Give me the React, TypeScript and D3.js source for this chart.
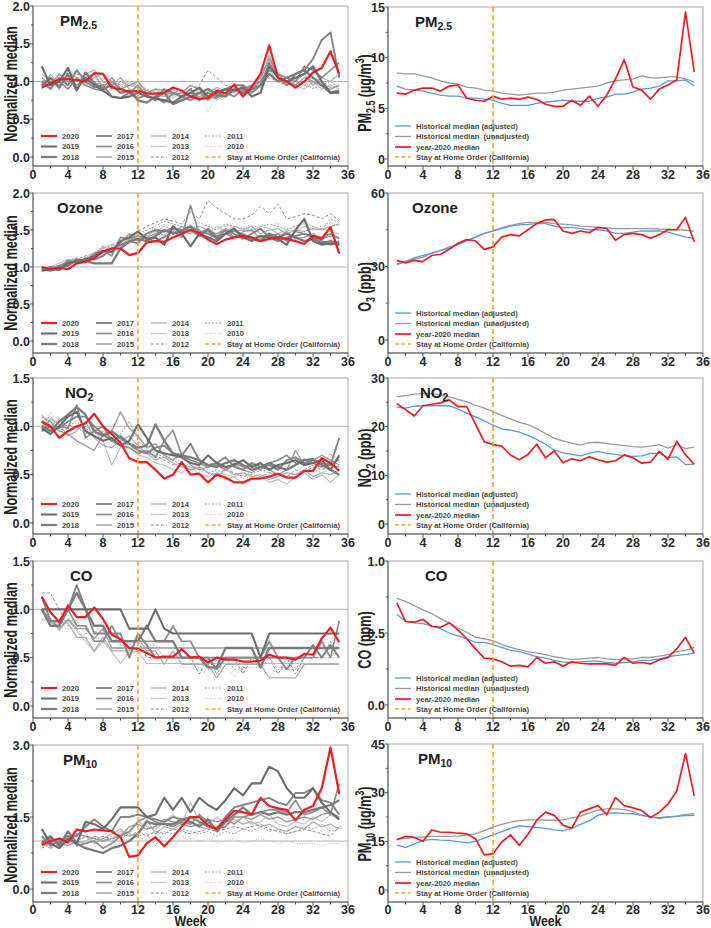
import React from 'react';
import * as d3 from 'd3';

// ---------------- DATA ----------------
const weeks = [1,2,3,4,5,6,7,8,9,10,11,12,13,14,15,16,17,18,19,20,21,22,23,24,25,26,27,28,29,30,31,32,33,34,35];
const xTicksMajor = [0,4,8,12,16,20,24,28,32,36];
const xTicksMinor = [2,6,10,14,18,22,26,30,34];
const stayHomeWeek = 12;

const years = ['2020','2019','2018','2017','2016','2015','2014','2013','2012','2011','2010'];

// PM2.5 normalized
const pm25_2020 = [0.92,0.97,1.03,1.03,1.02, 1.00,1.11,1.10,0.92,0.90, 0.86,0.88,0.84,0.84,0.85, 0.92,0.88,0.80,0.77,0.78, 0.88,0.84,0.96,0.80,0.93, 1.10,1.48,1.05,1.00,0.92, 1.00,1.12,1.18,1.40,1.10];
const pm25_2019 = [1.20,0.95,1.00,1.18,0.90, 1.05,0.95,0.88,0.80,0.78, 0.80,0.85,0.80,0.78,0.75, 0.72,0.80,0.85,0.92,0.80, 0.85,0.90,0.88,0.92,0.80, 0.85,1.20,1.05,1.00,1.05, 1.10,1.20,1.00,0.85,0.88];
const pm25_2018 = [0.95,1.05,0.92,1.10,0.88, 1.12,0.98,0.90,0.95,0.85, 0.88,0.75,0.72,0.80,0.85, 0.70,0.75,0.80,0.85,0.90, 0.82,0.80,0.90,0.85,0.90, 0.95,1.10,1.00,1.05,1.10, 1.15,1.05,0.95,0.85,0.85];
const pm25_2017 = [1.00,0.90,1.05,0.95,1.15, 1.00,0.92,0.95,0.80,0.78, 0.85,0.78,0.82,0.75,0.90, 0.85,0.80,0.90,0.75,0.85, 0.80,0.90,0.95,0.95,0.85, 0.95,1.25,1.05,0.95,1.10, 1.15,1.30,1.55,1.65,1.05];
const pm25_2016 = [0.95,1.00,1.00,0.90,1.05, 0.95,0.90,0.88,1.00,0.90, 0.85,0.95,0.80,0.78,0.72, 0.85,0.80,0.75,0.85,0.80, 0.78,0.85,0.80,0.90,0.95, 1.00,1.15,1.10,1.05,1.00, 1.20,1.15,1.05,1.15,1.25];
const pm25_2015 = [1.05,0.95,1.10,1.00,0.95, 1.05,1.10,0.92,1.05,0.90, 0.95,1.00,0.85,0.90,0.88, 0.82,0.85,0.95,0.90,0.75, 0.85,0.80,0.92,0.88,0.95, 1.05,1.30,1.10,1.00,0.95, 1.05,1.00,0.95,0.90,0.95];
const pm25_2014 = [0.90,1.10,0.95,1.05,1.00, 1.10,1.15,1.00,0.95,1.05, 0.90,0.85,0.88,0.82,0.80, 0.90,0.78,0.85,0.80,0.85, 0.92,0.88,0.85,0.95,0.90, 1.00,1.35,1.05,0.95,1.00, 1.10,0.95,1.05,1.00,1.10];
const pm25_2013 = [1.10,1.00,0.90,1.15,1.05, 0.95,1.05,1.10,1.00,0.95, 1.00,0.90,0.82,0.88,0.85, 0.78,0.85,0.80,0.90,0.85, 0.75,0.82,0.88,0.80,0.92, 1.00,1.15,1.00,1.05,0.95, 0.90,1.00,0.90,0.95,0.90];
const pm25_2012 = [1.00,1.05,0.98,1.00,1.10, 1.05,0.95,1.00,0.90,1.00, 0.95,0.92,0.85,0.90,0.80, 0.85,0.88,0.90,0.95,1.15, 1.05,0.95,0.90,0.88,0.85, 0.95,1.05,1.00,0.95,1.00, 0.95,1.05,1.00,0.92,0.95];
const pm25_2011 = [0.95,1.00,1.05,0.92,1.00, 0.98,1.05,0.95,1.00,0.92, 0.98,0.95,0.90,0.85,0.88, 0.92,0.85,0.82,0.78,0.88, 0.90,0.85,0.82,0.90,0.88, 0.92,1.10,1.00,0.98,0.95, 1.00,0.90,0.95,1.00,0.92];
const pm25_2010 = [1.05,0.98,1.00,1.05,0.95, 1.00,0.98,1.05,0.95,1.00, 1.02,0.98,0.88,0.82,0.85, 0.80,0.82,0.78,0.85,0.60, 0.82,0.88,0.85,0.92,0.95, 0.98,1.05,1.02,0.98,1.02, 0.95,0.92,0.88,0.95,0.98];

// Ozone normalized
const o3_2020 = [1.00,0.97,0.99,0.97,1.05, 1.07,1.12,1.21,1.25,1.25, 1.16,1.19,1.33,1.35,1.34, 1.40,1.45,1.50,1.46,1.37, 1.31,1.37,1.40,1.42,1.40, 1.35,1.38,1.40,1.38,1.35, 1.31,1.42,1.38,1.54,1.18];
const o3_2019 = [0.95,0.97,0.96,1.05,1.08, 1.10,1.15,1.22,1.20,1.35, 1.40,1.48,1.38,1.40,1.30, 1.55,1.45,1.28,1.45,1.40, 1.35,1.45,1.52,1.40,1.35, 1.42,1.40,1.38,1.30,1.50, 1.65,1.35,1.30,1.32,1.30];
const o3_2018 = [0.97,0.95,1.00,1.02,1.10, 1.08,1.05,1.05,1.05,1.25, 1.35,1.38,1.35,1.42,1.50, 1.45,1.48,1.55,1.42,1.50, 1.38,1.45,1.50,1.42,1.38, 1.35,1.45,1.40,1.45,1.40, 1.35,1.38,1.32,1.35,1.32];
const o3_2017 = [0.96,1.00,0.98,1.08,1.05, 1.12,1.10,1.15,1.25,1.30, 1.35,1.32,1.45,1.50,1.48, 1.52,1.50,1.55,1.48,1.45, 1.40,1.50,1.45,1.38,1.45, 1.52,1.40,1.35,1.40,1.42, 1.45,1.40,1.35,1.30,1.35];
const o3_2016 = [1.00,0.96,1.02,1.05,1.10, 1.08,1.18,1.22,1.15,1.40, 1.38,1.42,1.38,1.35,1.40, 1.48,1.40,1.83,1.45,1.52, 1.42,1.45,1.40,1.45,1.38, 1.42,1.40,1.45,1.35,1.48, 1.45,1.42,1.40,1.45,1.38];
const o3_2015 = [0.98,1.00,0.97,1.10,1.05, 1.10,1.12,1.20,1.25,1.32, 1.45,1.35,1.40,1.45,1.50, 1.45,1.55,1.48,1.42,1.38, 1.45,1.50,1.40,1.48,1.50, 1.38,1.45,1.40,1.48,1.38, 1.40,1.45,1.38,1.42,1.40];
const o3_2014 = [0.95,0.99,1.02,1.08,1.12, 1.05,1.15,1.28,1.22,1.30, 1.32,1.40,1.45,1.50,1.42, 1.55,1.48,1.45,1.55,1.50, 1.45,1.52,1.48,1.50,1.55, 1.45,1.50,1.52,1.45,1.50, 1.48,1.52,1.50,1.55,1.58];
const o3_2013 = [0.97,1.00,1.05,1.10,1.08, 1.12,1.20,1.25,1.30,1.28, 1.40,1.45,1.42,1.48,1.55, 1.50,1.45,1.52,1.50,1.45, 1.55,1.48,1.55,1.50,1.48, 1.55,1.52,1.45,1.50,1.48, 1.55,1.50,1.52,1.48,1.45];
const o3_2012 = [0.98,0.96,1.00,1.05,1.10, 1.15,1.18,1.25,1.30,1.35, 1.42,1.48,1.55,1.60,1.65, 1.62,1.58,1.75,1.65,1.90, 1.80,1.72,1.65,1.65,1.70, 1.82,1.72,1.85,1.65,1.68, 1.72,1.70,1.65,1.72,1.62];
const o3_2011 = [0.96,0.98,1.02,1.06,1.10, 1.12,1.15,1.22,1.28,1.30, 1.38,1.45,1.50,1.55,1.62, 1.58,1.55,1.50,1.60,1.55, 1.50,1.58,1.55,1.52,1.50, 1.55,1.58,1.55,1.50,1.55, 1.60,1.55,1.50,1.65,1.60];
const o3_2010 = [0.95,0.97,1.00,1.04,1.08, 1.10,1.18,1.30,1.25,1.32, 1.35,1.42,1.48,1.52,1.58, 1.55,1.60,1.55,1.50,1.58, 1.52,1.55,1.60,1.55,1.52, 1.58,1.55,1.60,1.52,1.55, 1.58,1.52,1.55,1.60,1.55];

// NO2 normalized
const no2_2020 = [1.05,1.00,0.88,0.95,1.00, 1.03,1.13,1.00,0.92,0.83, 0.67,0.63,0.63,0.55,0.46, 0.50,0.63,0.50,0.51,0.42, 0.50,0.47,0.42,0.42,0.46, 0.46,0.48,0.51,0.47,0.47, 0.54,0.54,0.67,0.62,0.54];
const no2_2019 = [0.98,0.92,1.00,1.10,1.15, 0.95,0.90,0.85,0.88,0.80, 0.85,1.02,0.88,0.75,0.72, 0.70,0.68,0.62,0.60,0.70, 0.62,0.58,0.60,0.65,0.58, 0.62,0.55,0.60,0.62,0.65, 0.60,0.62,0.65,0.55,0.70];
const no2_2018 = [1.00,0.95,1.05,1.12,1.20, 1.12,0.95,0.90,0.95,0.88, 0.82,0.78,0.80,1.02,0.85, 0.72,0.70,0.68,0.65,0.60, 0.58,0.62,0.65,0.60,0.55, 0.58,0.62,0.58,0.55,0.60, 0.65,0.66,0.60,0.55,0.50];
const no2_2017 = [0.95,1.00,0.98,1.05,1.10, 1.10,1.00,0.92,0.85,0.90, 0.82,0.75,0.72,0.78,0.80, 0.72,0.70,0.82,0.65,0.60, 0.62,0.68,0.58,0.55,0.62, 0.58,0.60,0.55,0.65,0.68, 0.62,0.65,0.62,0.60,0.88];
const no2_2016 = [1.05,0.95,1.00,0.98,1.22, 0.88,0.95,1.00,0.85,0.80, 0.78,0.72,0.75,0.68,0.85, 0.96,0.70,0.65,0.62,0.58, 0.60,0.55,0.62,0.58,0.60, 0.55,0.62,0.65,0.70,0.62, 0.66,0.62,0.58,0.62,0.65];
const no2_2015 = [1.10,1.05,0.95,0.92,0.85, 0.80,0.75,0.92,0.95,1.15, 0.98,0.90,0.78,0.82,0.70, 0.65,0.72,0.60,0.55,0.58, 0.62,0.55,0.60,0.55,0.52, 0.58,0.55,0.50,0.55,0.75, 0.60,0.65,0.70,0.65,0.60];
const no2_2014 = [0.95,1.08,1.02,0.90,0.95, 1.05,0.88,0.80,0.78,0.85, 0.90,0.80,0.72,0.65,0.68, 0.62,0.58,0.55,0.58,0.52, 0.48,0.55,0.50,0.52,0.48, 0.50,0.45,0.48,0.52,0.50, 0.55,0.48,0.52,0.50,0.55];
const no2_2013 = [1.12,1.00,1.08,0.95,1.00, 0.92,0.95,0.85,0.60,0.78, 0.82,0.70,0.68,0.62,0.60, 0.55,0.52,0.58,0.50,0.48, 0.52,0.45,0.48,0.40,0.45, 0.48,0.42,0.45,0.40,0.48, 0.52,0.45,0.50,0.42,0.50];
const no2_2012 = [1.00,1.05,0.95,1.02,0.98, 1.00,0.95,0.90,0.85,0.88, 0.82,0.78,0.72,0.70,0.65, 0.60,0.62,0.55,0.58,0.52, 0.50,0.55,0.52,0.48,0.50, 0.48,0.52,0.50,0.48,0.55, 0.52,0.58,0.55,0.60,0.58];
const no2_2011 = [1.05,1.10,1.02,1.00,1.05, 0.98,0.92,0.95,0.88,0.92, 1.05,0.85,0.78,0.72,0.68, 0.65,0.60,0.58,0.55,0.52, 0.55,0.50,0.48,0.52,0.50, 0.55,0.52,0.48,0.52,0.50, 0.55,0.60,0.58,0.72,0.62];
const no2_2010 = [1.00,1.15,1.05,1.10,1.02, 0.98,1.00,0.92,0.90,0.95, 1.04,0.88,0.80,0.75,0.70, 0.68,0.62,0.60,0.58,0.55, 0.52,0.50,0.48,0.50,0.45, 0.48,0.50,0.45,0.48,0.52, 0.50,0.55,0.52,0.55,0.58];

// CO normalized
const co_2020 = [1.13,0.97,0.87,1.04,0.92, 0.92,1.02,0.90,0.74,0.69, 0.60,0.59,0.55,0.50,0.51, 0.51,0.59,0.50,0.51,0.45, 0.50,0.48,0.48,0.46,0.46, 0.47,0.53,0.50,0.50,0.48, 0.54,0.53,0.70,0.81,0.66];
const co_2019 = [1.00,1.00,1.00,1.00,1.00, 1.00,1.00,1.00,1.00,1.00, 0.80,0.80,0.80,1.00,0.80, 0.75,0.75,0.75,0.75,0.75, 0.75,0.75,0.75,0.75,0.75, 0.50,0.75,0.75,0.75,0.75, 0.75,0.75,0.75,0.75,0.75];
const co_2018 = [1.00,0.83,0.83,1.00,1.17, 1.00,0.83,0.83,0.67,0.67, 0.67,0.67,0.83,0.67,0.67, 0.67,0.50,0.50,0.50,0.40, 0.40,0.60,0.60,0.60,0.60, 0.40,0.60,0.60,0.60,0.60, 0.60,0.60,0.60,0.60,0.60];
const co_2017 = [1.13,0.88,0.88,1.00,1.25, 1.00,0.75,0.75,0.75,0.75, 0.50,0.75,0.63,0.50,0.50, 0.50,0.50,0.50,0.50,0.50, 0.38,0.50,0.50,0.50,0.50, 0.50,0.50,0.50,0.38,0.50, 0.50,0.63,0.50,0.63,0.50];
const co_2016 = [1.00,0.83,0.83,1.00,0.83, 0.83,0.67,0.67,0.83,0.67, 0.67,0.67,0.67,0.67,0.67, 0.83,0.67,0.67,0.50,0.50, 0.50,0.50,0.50,0.50,0.50, 0.50,0.67,0.50,0.50,0.50, 0.50,0.50,0.67,0.50,0.88];
const co_2015 = [1.00,0.90,0.80,0.90,0.80, 0.80,0.70,0.80,0.60,0.60, 0.60,0.60,0.60,0.60,0.60, 0.60,0.60,0.60,0.60,0.60, 0.60,0.60,0.60,0.60,0.60, 0.60,0.60,0.60,0.60,0.60, 0.60,0.60,0.60,0.60,0.60];
const co_2014 = [1.00,0.86,0.86,0.86,0.71, 0.71,0.57,0.71,0.57,0.57, 0.57,0.71,0.57,0.57,0.43, 0.57,0.43,0.43,0.43,0.43, 0.29,0.43,0.43,0.43,0.43, 0.43,0.29,0.29,0.29,0.29, 0.43,0.43,0.43,0.43,0.43];
const co_2013 = [0.89,0.89,0.78,0.89,0.78, 0.67,0.56,0.67,0.56,0.44, 0.56,0.56,0.44,0.44,0.44, 0.44,0.44,0.44,0.44,0.44, 0.44,0.44,0.44,0.44,0.44, 0.44,0.44,0.44,0.44,0.44, 0.44,0.44,0.44,0.44,0.44];
const co_2012 = [1.17,1.17,1.00,0.83,0.83, 0.83,0.67,0.67,0.67,0.67, 0.67,0.67,0.50,0.50,0.50, 0.50,0.50,0.50,0.33,0.50, 0.33,0.50,0.50,0.33,0.50, 0.50,0.50,0.33,0.50,0.33, 0.50,0.50,0.50,0.67,0.50];
const co_2011 = [1.00,0.88,0.88,0.88,0.88, 0.75,0.75,0.88,0.75,0.63, 0.63,0.75,0.63,0.63,0.50, 0.50,0.50,0.50,0.50,0.38, 0.38,0.50,0.38,0.38,0.50, 0.38,0.50,0.38,0.38,0.38, 0.50,0.50,0.50,0.50,0.63];
const co_2010 = [0.90,0.90,0.80,0.80,0.80, 0.70,0.70,0.70,0.60,0.60, 0.60,0.50,0.50,0.50,0.50, 0.50,0.40,0.40,0.40,0.30, 0.40,0.40,0.30,0.40,0.40, 0.40,0.30,0.40,0.40,0.40, 0.40,0.50,0.50,0.50,0.50];

// PM10 normalized
const pm10_2020 = [0.92,1.00,1.05,0.97,1.24, 1.20,1.24,1.22,1.20,1.08, 0.67,0.70,0.95,1.08,0.89, 1.08,1.30,1.50,1.50,1.33, 1.25,1.45,1.63,1.60,1.55, 1.90,1.73,1.68,1.65,1.43, 1.65,1.73,2.10,2.95,1.98];
const pm10_2019 = [1.25,0.95,0.85,1.05,0.95, 1.40,1.35,1.25,1.45,1.70, 1.70,1.70,1.50,1.55,1.90, 1.65,1.90,1.60,1.90,1.75, 1.65,1.85,2.10,1.95,2.20, 2.20,2.55,2.45,2.10,1.90, 1.90,2.10,1.80,1.60,1.45];
const pm10_2018 = [0.95,1.10,0.90,1.20,0.95, 0.85,0.80,0.75,0.85,0.90, 1.00,1.15,1.40,1.35,1.35, 1.35,1.45,1.40,1.30,1.45, 1.20,1.40,1.55,1.70,1.55, 1.60,1.55,1.60,1.55,1.60, 1.60,1.65,1.70,1.75,1.85];
const pm10_2017 = [1.10,0.90,1.00,1.10,1.10, 1.30,1.45,1.30,1.20,1.50, 1.50,1.55,1.50,1.45,1.40, 1.50,1.45,1.50,1.40,1.30, 1.25,1.50,1.70,1.75,1.80, 1.85,1.90,1.80,1.75,2.00, 2.00,2.10,1.85,1.80,1.55];
const pm10_2016 = [1.00,1.05,0.95,1.10,0.90, 0.95,1.00,0.85,0.95,1.10, 1.20,1.40,1.50,1.40,1.35, 1.30,1.40,1.35,1.55,1.40, 1.25,1.30,1.50,1.50,1.55, 1.60,1.65,1.65,1.60,1.85, 1.55,1.60,1.70,1.55,2.20];
const pm10_2015 = [0.90,0.95,1.05,1.00,1.15, 1.10,1.05,1.00,1.05,1.10, 1.30,1.35,1.25,1.30,1.45, 1.40,1.35,1.30,1.35,1.45, 1.40,1.45,1.35,1.50,1.45, 1.55,1.45,1.50,1.40,1.45, 1.50,1.45,1.55,1.60,1.50];
const pm10_2014 = [0.95,0.85,0.95,0.90,1.00, 1.10,0.95,1.05,1.15,1.25, 1.10,1.15,1.45,1.15,1.30, 1.25,1.35,1.40,1.30,1.25, 1.30,1.40,1.45,1.35,1.40, 1.30,1.35,1.25,1.20,1.30, 1.25,1.40,1.30,1.35,1.25];
const pm10_2013 = [1.05,1.10,0.90,1.00,0.95, 1.00,1.10,1.05,1.00,1.20, 1.15,1.40,1.30,1.25,1.40, 1.55,1.35,1.80,1.40,1.35, 1.50,1.35,1.40,1.50,1.35, 1.40,1.55,1.35,1.30,1.40, 1.35,1.50,1.40,1.55,1.45];
const pm10_2012 = [0.85,0.95,1.00,0.90,1.00, 0.95,1.00,1.10,1.05,1.15, 1.10,1.20,1.10,1.20,1.15, 1.25,1.20,1.15,1.20,1.25, 1.20,1.25,1.30,1.25,1.30, 1.35,1.25,1.20,1.15,1.20, 1.25,1.20,1.15,1.10,1.30];
const pm10_2011 = [0.95,1.00,0.95,1.05,1.00, 0.95,1.05,1.00,1.10,1.05, 1.15,1.10,1.15,0.90,1.20, 1.15,1.25,1.20,1.15,1.20, 1.10,1.20,1.15,1.25,1.20, 1.30,1.20,1.25,1.15,1.20, 1.30,1.25,1.35,1.20,1.25];
const pm10_2010 = [1.00,0.95,1.00,0.90,0.95, 1.00,0.95,1.05,0.95,1.00, 1.05,1.10,1.00,1.05,0.95, 0.85,1.10,1.05,1.00,1.05, 0.95,1.00,1.05,0.95,1.00, 1.05,1.00,0.95,1.00,0.95, 0.95,0.95,0.90,0.95,0.95];

// Absolute concentrations (right column)
const pm25Adj = [7.2,6.9,6.8,6.7,6.5, 6.3,6.2,6.2,6.0,6.0, 5.9,5.8,5.5,5.3,5.3, 5.3,5.5,5.6,5.7,5.8, 5.7,5.7,5.7,6.0,6.1, 6.4,6.4,6.6,6.9,7.0, 7.2,7.7,7.7,7.8,7.2];
const pm25Unadj = [8.5,8.4,8.4,8.2,8.0, 7.7,7.5,7.4,7.1,7.0, 6.8,6.7,6.5,6.4,6.3, 6.4,6.5,6.5,6.6,6.8, 6.9,7.0,7.1,7.2,7.5, 7.7,7.8,7.9,8.2,8.0, 8.0,8.1,8.1,7.9,7.6];
const pm25Y2020 = [6.5,6.4,6.8,7.0,7.0, 6.7,7.2,7.3,6.0,5.8, 5.7,6.2,5.9,6.0,5.9, 6.1,5.9,5.4,5.2,5.2, 5.8,5.3,6.2,5.2,6.3, 7.9,9.8,7.1,6.8,5.9, 6.9,7.3,7.8,14.5,8.6];

const o3Adj = [31,32,33.5,34.5,35.5, 36.5,37.5,39,40.5,42, 43.5,44.5,45.5,46.5,47, 47.2,47.5,47.5,46.5,45.8, 46,45.5,45,45,44.5, 43.5,43.5,44,44.5,44.5, 44.5,44,43,42,41.5];
const o3Unadj = [30.8,32,33,33.8,35.5, 36.5,38,39,40.5,42, 43.5,44.5,45.8,46.8,47.5, 48,48,48,47.5,47.3, 47,46.5,46.3,46,45.8, 45.5,45.5,45.5,45.5,45.5, 45.3,45.2,45,44.8,44.3];
const o3Y2020 = [32.5,31.5,32.5,32,34.5, 35,37,39.5,41,40.5, 37,38,42,43,42.5, 45,47.5,49,49.2,44.5, 43.5,44.5,43.8,46,45.5, 40.7,43,43.5,43,41.5, 43,45,45,50,40];

const no2Adj = [24.0,23.8,24.2,24.3,24.3, 24.3,24.3,23.6,22.8,22.0, 21.2,20.3,19.5,19.3,18.9, 18.2,17.4,16.4,15.2,14.6, 14.3,14.0,14.5,14.9,14.5, 14.3,14.0,13.9,14.0,14.5, 14.5,13.7,13.8,12.2,12.3];
const no2Unadj = [26.1,26.4,26.7,26.8,26.8, 26.5,26.1,25.6,25.1,24.4, 23.8,23.1,22.3,21.6,20.9, 20.4,19.6,18.6,17.6,17.1, 16.6,16.2,16.7,16.8,16.5, 16.3,16.1,15.9,15.8,16.0, 16.3,15.6,16.3,15.5,15.8];
const no2Y2020 = [24.7,23.5,22.2,24.3,24.6, 24.9,25.5,24.1,24.1,20.5, 16.9,16.3,16.0,14.2,13.2, 14.3,16.4,13.6,15.0,12.6, 13.4,13.0,13.8,13.2,12.7, 13.0,14.2,13.6,12.5,12.7, 14.9,13.3,17.0,14.2,12.3];

const coAdj = [0.63,0.58,0.57,0.565,0.55, 0.53,0.50,0.48,0.46,0.435, 0.435,0.42,0.40,0.38,0.37, 0.355,0.335,0.325,0.31,0.30, 0.295,0.30,0.305,0.305,0.295, 0.29,0.295,0.30,0.31,0.31, 0.32,0.335,0.345,0.35,0.36];
const coUnadj = [0.74,0.72,0.69,0.66,0.635, 0.60,0.57,0.535,0.505,0.47, 0.46,0.445,0.42,0.40,0.385, 0.37,0.36,0.35,0.335,0.325, 0.315,0.32,0.325,0.33,0.32, 0.315,0.32,0.32,0.33,0.33, 0.34,0.35,0.37,0.38,0.40];
const coY2020 = [0.71,0.58,0.575,0.595,0.545, 0.54,0.57,0.52,0.46,0.39, 0.325,0.32,0.30,0.27,0.275, 0.265,0.33,0.29,0.30,0.27, 0.30,0.29,0.285,0.285,0.285, 0.275,0.33,0.29,0.295,0.285, 0.315,0.33,0.39,0.47,0.36];

const pm10Adj = [13.8,13.1,14.2,15.2,15.6, 15.4,15.3,14.9,14.5,15.0, 16.0,17.0,18.0,19.0,19.8, 19.5,19.3,19.0,18.5,18.2, 19.0,20.2,21.3,23.0,23.7, 23.8,23.6,23.5,23.0,22.5, 22.3,22.5,22.7,22.9,23.0];
const pm10Unadj = [15.7,15.9,16.2,16.4,16.5, 16.5,16.5,16.6,16.9,17.3, 18.3,19.4,20.2,20.9,21.4, 21.6,21.6,21.5,21.5,21.6, 22.2,22.8,23.8,24.6,25.0, 25.0,24.8,24.2,23.0,22.6, 22.0,22.5,22.8,23.3,23.5];
const pm10Y2020 = [15.5,16.5,16.2,15.0,18.5, 17.8,17.8,17.5,17.3,15.8, 10.8,11.2,14.8,17.0,13.8, 17.2,21.5,24.0,23.0,20.0, 19.0,24.0,25.0,26.0,23.2, 28.5,26.0,25.3,24.5,22.3, 24.0,26.5,30.5,42.0,29.0];

// Axis ticks
const normTicks2 = [0, 0.5, 1.0, 1.5, 2.0];
const normMinor2 = [0.25, 0.75, 1.25, 1.75];
const normTicks15 = [0, 0.5, 1.0, 1.5];
const normMinor15 = [0.25, 0.75, 1.25];
const normTicks3 = [0, 1.5, 3.0];
const normMinor3 = [0.75, 2.25];
const pm25Ticks = [0, 5, 10, 15];
const pm25Minor = [2.5, 7.5, 12.5];
const o3Ticks = [0, 30, 60];
const o3Minor = [15, 45];
const no2Ticks = [0, 10, 20, 30];
const no2Minor = [5, 15, 25];
const coTicks = [0, 0.5, 1.0];
const coMinor = [0.25, 0.75];
const pm10Ticks = [0, 15, 30, 45];
const pm10Minor = [7.5, 22.5, 37.5];

const rightLegendLabels = ['Historical median (adjusted)', 'Historical median  (unadjusted)', 'year-2020 median', 'Stay at Home Order (California)'];

// ---------------- STYLE ----------------
const FONT = '"Liberation Sans", Arial, Helvetica, sans-serif';
const RED = '#ee1d23';
const ORANGE = '#f5a623';
const BLUE = '#5b9bd5';
const HISTGRAY = '#9a9a9a';
const X_LEFT: [number, number] = [33, 348];
const X_RIGHT: [number, number] = [388, 703];

const yearStyle: Record<string, { color: string; width: number; dash?: string }> = {
  '2020': { color: RED, width: 2.2 },
  '2019': { color: '#6c6c6c', width: 2.1 },
  '2018': { color: '#7c7c7c', width: 2.3 },
  '2017': { color: '#848484', width: 1.9 },
  '2016': { color: '#8e8e8e', width: 1.7 },
  '2015': { color: '#9c9c9c', width: 1.4 },
  '2014': { color: '#adadad', width: 1.2 },
  '2013': { color: '#bebebe', width: 1.1 },
  '2012': { color: '#8e8e8e', width: 1, dash: '3,2' },
  '2011': { color: '#a6a6a6', width: 1, dash: '2,1.5' },
  '2010': { color: '#bdbdbd', width: 1, dash: '1,1.5' },
};

type Part = { t: string; sub?: boolean; sup?: boolean };

function Rich({ parts, fs }: { parts: Part[]; fs: number }) {
  let cur = 0;
  return (
    <>
      {parts.map((p, i) => {
        const target = p.sub ? fs * 0.22 : p.sup ? -fs * 0.4 : 0;
        const dy = target - cur;
        cur = target;
        return (
          <tspan key={i} dy={dy} fontSize={p.sub || p.sup ? fs * 0.7 : fs}>
            {p.t}
          </tspan>
        );
      })}
    </>
  );
}

type PanelProps = {
  xRange: [number, number];
  top: number;
  zero: number;
  bottom: number;
  yMax: number;
  ticks: number[];
  minor: number[];
  fmt: (v: number) => string;
  title: Part[];
  titleDx: number;
  yTitle: Part[];
  yTitleX: number;
  yTitleCy: number;
  kind: 'left' | 'right';
  yearSeries?: Record<string, number[]>;
  adj?: number[];
  unadj?: number[];
  y2020?: number[];
  showWeek?: boolean;
};

function Panel(p: PanelProps) {
  const x = d3.scaleLinear().domain([0, 36]).range(p.xRange);
  const y = d3.scaleLinear().domain([0, p.yMax]).range([p.zero, p.top]);
  const line = d3.line<number>().x((_, i) => x(weeks[i])).y((d) => y(d));
  const [x0, x1] = p.xRange;
  const axisColor = '#555';
  const labelColor = '#2a2a2a';

  const lines: React.ReactNode[] = [];
  if (p.kind === 'left' && p.yearSeries) {
    const order = ['2010', '2011', '2012', '2013', '2014', '2015', '2016', '2017', '2018', '2019'];
    order.forEach((yr) => {
      const s = yearStyle[yr];
      lines.push(
        <path key={yr} d={line(p.yearSeries![yr]) || ''} fill="none" stroke={s.color} strokeWidth={s.width}
          strokeDasharray={s.dash} strokeLinejoin="round" />
      );
    });
    lines.push(
      <path key="2020" d={line(p.yearSeries['2020']) || ''} fill="none" stroke={RED} strokeWidth={2.2} strokeLinejoin="round" />
    );
  } else {
    lines.push(<path key="u" d={line(p.unadj!) || ''} fill="none" stroke={HISTGRAY} strokeWidth={1.3} />);
    lines.push(<path key="a" d={line(p.adj!) || ''} fill="none" stroke={BLUE} strokeWidth={1.3} />);
    lines.push(<path key="r" d={line(p.y2020!) || ''} fill="none" stroke={RED} strokeWidth={1.7} strokeLinejoin="round" />);
  }

  // legend
  const legend: React.ReactNode[] = [];
  const lfs = 7.6;
  const lcolor = '#4a4a4a';
  if (p.kind === 'left') {
    const rowsY = [p.bottom - 30, p.bottom - 19.5, p.bottom - 9];
    const colLine = [8, 63, 118, 172];
    const colText = [29, 84, 139, 194];
    const entries = [...years, 'stay'];
    entries.forEach((e, i) => {
      const c = Math.floor(i / 3);
      const r = i % 3;
      const ly = rowsY[r];
      const lx = x0 + colLine[c];
      const isStay = e === 'stay';
      const s = isStay ? { color: ORANGE, width: 1.5, dash: '4,2.5' } : yearStyle[e];
      legend.push(
        <g key={e}>
          <line x1={lx} x2={lx + 16} y1={ly} y2={ly} stroke={s.color} strokeWidth={s.width} strokeDasharray={s.dash} />
          <text x={x0 + colText[c]} y={ly} dy="0.35em" fontSize={lfs} fontWeight="bold" fill={lcolor} fontFamily={FONT}>
            {isStay ? 'Stay at Home Order (California)' : e}
          </text>
        </g>
      );
    });
  } else {
    const rowsY = [p.bottom - 40, p.bottom - 29.5, p.bottom - 19, p.bottom - 9];
    const styles = [
      { color: BLUE, width: 1.3, dash: undefined as string | undefined },
      { color: HISTGRAY, width: 1.3, dash: undefined },
      { color: RED, width: 1.7, dash: undefined },
      { color: ORANGE, width: 1.5, dash: '4,2.5' },
    ];
    rightLegendLabels.forEach((lab, i) => {
      const ly = rowsY[i];
      legend.push(
        <g key={lab}>
          <line x1={x0 + 7} x2={x0 + 23} y1={ly} y2={ly} stroke={styles[i].color} strokeWidth={styles[i].width} strokeDasharray={styles[i].dash} />
          <text x={x0 + 28} y={ly} dy="0.35em" fontSize={lfs} fontWeight="bold" fill={lcolor} fontFamily={FONT} style={{ whiteSpace: 'pre' }}>
            {lab}
          </text>
        </g>
      );
    });
  }

  const xLabelY = p.showWeek ? p.bottom + 11.5 : p.bottom + 12.5;

  return (
    <g>
      {/* frame */}
      <rect x={x0} y={p.top} width={x1 - x0} height={p.bottom - p.top} fill="none" stroke="#a8a8a8" strokeWidth={1} />
      {p.kind === 'left' && (
        <line x1={x0} x2={x1} y1={y(1)} y2={y(1)} stroke="#b4b4b4" strokeWidth={1} />
      )}
      {lines}
      <line x1={x(stayHomeWeek)} x2={x(stayHomeWeek)} y1={p.top} y2={p.bottom} stroke={ORANGE} strokeWidth={1.6} strokeDasharray="5,3" />
      {/* axes */}
      <line x1={x0} x2={x0} y1={p.top} y2={p.bottom} stroke={axisColor} strokeWidth={1} />
      <line x1={x0} x2={x1} y1={p.bottom} y2={p.bottom} stroke={axisColor} strokeWidth={1} />
      {xTicksMajor.map((t) => (
        <g key={'xt' + t}>
          <line x1={x(t)} x2={x(t)} y1={p.bottom} y2={p.bottom + 4} stroke={axisColor} />
          <text x={x(t)} y={xLabelY} textAnchor="middle" fontSize={12.5} fontWeight="bold" fill={labelColor} fontFamily={FONT}>
            {t}
          </text>
        </g>
      ))}
      {xTicksMinor.map((t) => (
        <line key={'xm' + t} x1={x(t)} x2={x(t)} y1={p.bottom} y2={p.bottom + 2.5} stroke={axisColor} />
      ))}
      {p.ticks.map((t) => (
        <g key={'yt' + t}>
          <line x1={x0 - 3} x2={x0} y1={y(t)} y2={y(t)} stroke={axisColor} />
          <text x={x0 - 3} y={y(t)} dy="0.36em" textAnchor="end" fontSize={12.5} fontWeight="bold" fill={labelColor} fontFamily={FONT}>
            {p.fmt(t)}
          </text>
        </g>
      ))}
      {p.minor.map((t) => (
        <line key={'ym' + t} x1={x0 - 2} x2={x0} y1={y(t)} y2={y(t)} stroke={axisColor} />
      ))}
      {/* panel title */}
      <text x={x0 + p.titleDx} y={p.top + 20} fontSize={15} fontWeight="bold" fill="#222" fontFamily={FONT}>
        <Rich parts={p.title} fs={15} />
      </text>
      {/* y title */}
      <text transform={`translate(${p.yTitleX},${p.yTitleCy}) rotate(-90) scale(0.7,1)`} textAnchor="middle"
        fontSize={18} fontWeight="bold" fill="#222" fontFamily={FONT}>
        <Rich parts={p.yTitle} fs={18} />
      </text>
      {legend}
      {p.showWeek && (
        <text transform={`translate(${(x0 + x1) / 2},925.5) scale(0.85,1)`} textAnchor="middle" fontSize={14.5} fontWeight="bold" fill="#222" fontFamily={FONT}>
          Week
        </text>
      )}
    </g>
  );
}

const f1 = (v: number) => v.toFixed(1);
const f0 = (v: number) => String(v);
const normTitle: Part[] = [{ t: 'Normalized median' }];

export default function App() {
  const rowsL = [
    { top: 6, zero: 157, bottom: 166 },
    { top: 193, zero: 341, bottom: 353 },
    { top: 378, zero: 523, bottom: 534 },
    { top: 561, zero: 706, bottom: 718 },
    { top: 745, zero: 889, bottom: 902 },
  ];
  const rowsR = [
    { top: 7, zero: 159, bottom: 166 },
    { top: 193, zero: 340, bottom: 353 },
    { top: 378, zero: 524, bottom: 534 },
    { top: 561, zero: 705, bottom: 718 },
    { top: 744, zero: 890, bottom: 902 },
  ];
  const titleDx = [27, 24, 32, 37, 30];
  const leftCy = [84, 273, 457, 640, 825];
  const rightCy = [93, 287, 458, 640, 824];

  const leftData = [
    { yMax: 2, ticks: normTicks2, minor: normMinor2, title: [{ t: 'PM' }, { t: '2.5', sub: true }],
      series: { '2020': pm25_2020, '2019': pm25_2019, '2018': pm25_2018, '2017': pm25_2017, '2016': pm25_2016, '2015': pm25_2015, '2014': pm25_2014, '2013': pm25_2013, '2012': pm25_2012, '2011': pm25_2011, '2010': pm25_2010 } },
    { yMax: 2, ticks: normTicks2, minor: normMinor2, title: [{ t: 'Ozone' }],
      series: { '2020': o3_2020, '2019': o3_2019, '2018': o3_2018, '2017': o3_2017, '2016': o3_2016, '2015': o3_2015, '2014': o3_2014, '2013': o3_2013, '2012': o3_2012, '2011': o3_2011, '2010': o3_2010 } },
    { yMax: 1.5, ticks: normTicks15, minor: normMinor15, title: [{ t: 'NO' }, { t: '2', sub: true }],
      series: { '2020': no2_2020, '2019': no2_2019, '2018': no2_2018, '2017': no2_2017, '2016': no2_2016, '2015': no2_2015, '2014': no2_2014, '2013': no2_2013, '2012': no2_2012, '2011': no2_2011, '2010': no2_2010 } },
    { yMax: 1.5, ticks: normTicks15, minor: normMinor15, title: [{ t: 'CO' }],
      series: { '2020': co_2020, '2019': co_2019, '2018': co_2018, '2017': co_2017, '2016': co_2016, '2015': co_2015, '2014': co_2014, '2013': co_2013, '2012': co_2012, '2011': co_2011, '2010': co_2010 } },
    { yMax: 3, ticks: normTicks3, minor: normMinor3, title: [{ t: 'PM' }, { t: '10', sub: true }],
      series: { '2020': pm10_2020, '2019': pm10_2019, '2018': pm10_2018, '2017': pm10_2017, '2016': pm10_2016, '2015': pm10_2015, '2014': pm10_2014, '2013': pm10_2013, '2012': pm10_2012, '2011': pm10_2011, '2010': pm10_2010 } },
  ];

  const rightData = [
    { yMax: 15, ticks: pm25Ticks, minor: pm25Minor, fmt: f0, title: [{ t: 'PM' }, { t: '2.5', sub: true }],
      yTitle: [{ t: 'PM' }, { t: '2.5', sub: true }, { t: ' (\u00b5g/m' }, { t: '3', sup: true }, { t: ')' }], adj: pm25Adj, unadj: pm25Unadj, y2020: pm25Y2020 },
    { yMax: 60, ticks: o3Ticks, minor: o3Minor, fmt: f0, title: [{ t: 'Ozone' }],
      yTitle: [{ t: 'O' }, { t: '3', sub: true }, { t: ' (ppb)' }], adj: o3Adj, unadj: o3Unadj, y2020: o3Y2020 },
    { yMax: 30, ticks: no2Ticks, minor: no2Minor, fmt: f0, title: [{ t: 'NO' }, { t: '2', sub: true }],
      yTitle: [{ t: 'NO' }, { t: '2', sub: true }, { t: ' (ppb)' }], adj: no2Adj, unadj: no2Unadj, y2020: no2Y2020 },
    { yMax: 1, ticks: coTicks, minor: coMinor, fmt: f1, title: [{ t: 'CO' }],
      yTitle: [{ t: 'CO (ppm)' }], adj: coAdj, unadj: coUnadj, y2020: coY2020 },
    { yMax: 45, ticks: pm10Ticks, minor: pm10Minor, fmt: f0, title: [{ t: 'PM' }, { t: '10', sub: true }],
      yTitle: [{ t: 'PM' }, { t: '10', sub: true }, { t: ' (\u00b5g/m' }, { t: '3', sup: true }, { t: ')' }], adj: pm10Adj, unadj: pm10Unadj, y2020: pm10Y2020 },
  ];

  return (
    <svg width={711} height={928} style={{ position: 'absolute', left: 0, top: 0, background: '#fff' }}>
      <rect x={0} y={0} width={711} height={928} fill="#fff" />
      {leftData.map((d, i) => (
        <Panel key={'L' + i} kind="left" xRange={X_LEFT} {...rowsL[i]} yMax={d.yMax} ticks={d.ticks} minor={d.minor}
          fmt={f1} title={d.title as Part[]} titleDx={titleDx[i]} yTitle={normTitle} yTitleX={17} yTitleCy={leftCy[i]}
          yearSeries={d.series} showWeek={i === 4} />
      ))}
      {rightData.map((d, i) => (
        <Panel key={'R' + i} kind="right" xRange={X_RIGHT} {...rowsR[i]} yMax={d.yMax} ticks={d.ticks} minor={d.minor}
          fmt={d.fmt} title={d.title as Part[]} titleDx={titleDx[i]} yTitle={d.yTitle as Part[]} yTitleX={371} yTitleCy={rightCy[i]}
          adj={d.adj} unadj={d.unadj} y2020={d.y2020} showWeek={i === 4} />
      ))}
    </svg>
  );
}
